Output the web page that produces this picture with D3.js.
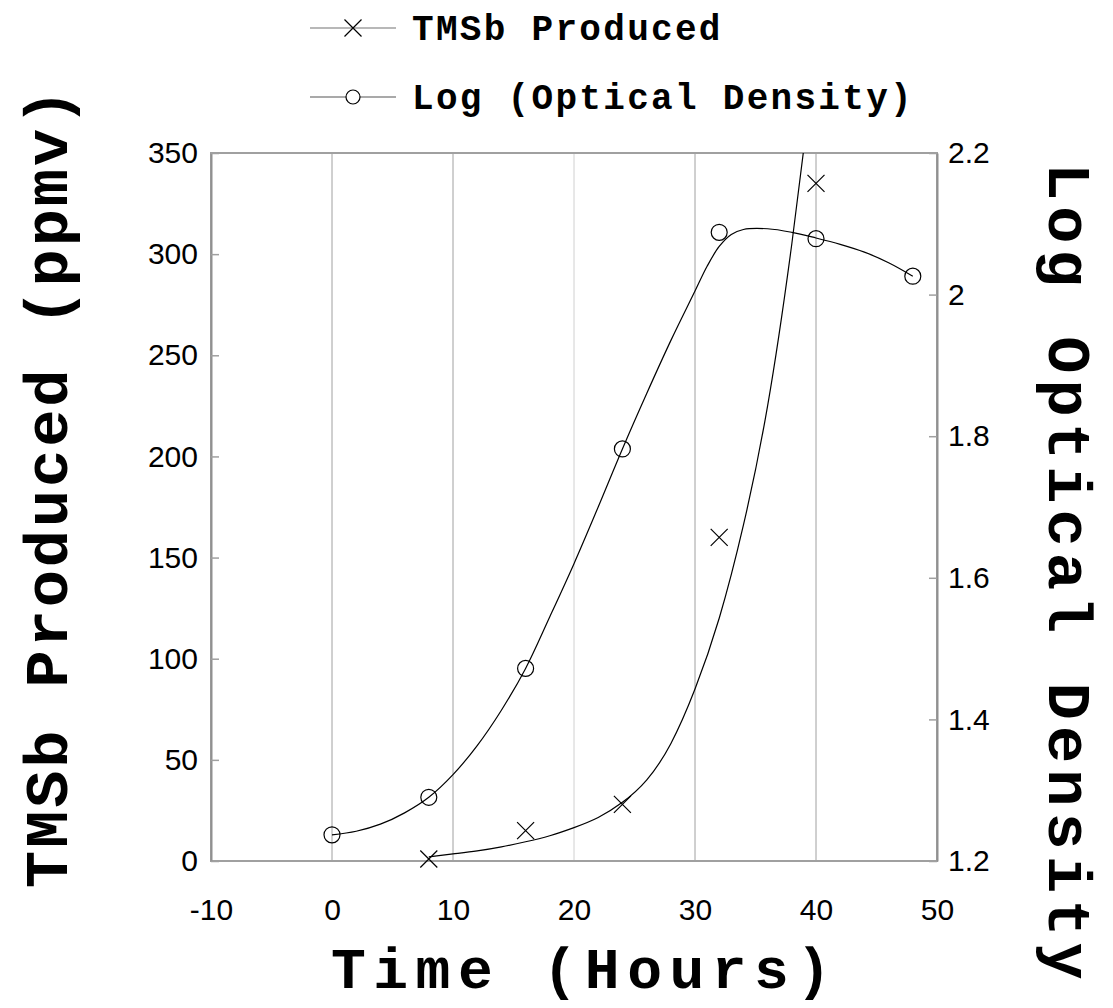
<!DOCTYPE html>
<html>
<head>
<meta charset="utf-8">
<script src="https://cdn.jsdelivr.net/npm/d3@7"></script>
<style>
  body { margin: 0; background: #fff; }
  .tick text { font-family: "Liberation Sans", Arial, sans-serif; font-size: 30px; fill: #000; }
  .title { font-family: "Liberation Mono", "Courier New", monospace; font-weight: bold; fill: #000; }
</style>
</head>
<body>
<script>
// measured points
const hours = [8, 16, 24, 32, 40];
const tmsb = [1, 15, 28, 160, 335];
const odHours = [0, 8, 16, 24, 32, 40, 48];
const logOD = [1.237, 1.290, 1.472, 1.782, 2.088, 2.079, 2.026];

// fitted curves as they appear on the plot
const tmsbFitX = [8, 10, 12, 14, 16, 18, 20, 22, 24, 26, 28, 30, 32, 34, 36, 38, 40];
const tmsbFitY = [2, 3.5, 5, 7, 9.5, 12.5, 16.5, 21.5, 29, 40, 58, 85, 120, 166, 225, 305, 400];
const odFitX = [0, 2, 4, 6, 8, 10, 12, 14, 16, 18, 20, 22, 24, 26, 28, 30, 31, 32, 33, 34, 36, 38, 40, 42, 44, 46, 48];
const odFitY = [1.237, 1.242, 1.252, 1.268, 1.290, 1.322, 1.363, 1.413, 1.472, 1.545, 1.620, 1.700, 1.782, 1.860, 1.935,
                2.005, 2.040, 2.068, 2.085, 2.092, 2.093, 2.088, 2.080, 2.071, 2.060, 2.045, 2.026];

const xTicks = [-10, 0, 10, 20, 30, 40, 50];
const gridX = [0, 10, 20, 30, 40];
const leftTicks = [0, 50, 100, 150, 200, 250, 300, 350];
const rightTicks = [1.2, 1.4, 1.6, 1.8, 2, 2.2];

const width = 1113, height = 1008;
const pLeft = 211, pRight = 937, pTop = 153, pBottom = 861;

const svg = d3.select("body").append("svg")
    .attr("width", width)
    .attr("height", height);

const x = d3.scaleLinear().domain([-10, 50]).range([pLeft, pRight]);
const yL = d3.scaleLinear().domain([0, 350]).range([pBottom, pTop]);
const yR = d3.scaleLinear().domain([1.2, 2.2]).range([pBottom, pTop]);

svg.append("clipPath").attr("id", "plot")
  .append("rect")
    .attr("x", pLeft).attr("y", pTop)
    .attr("width", pRight - pLeft).attr("height", pBottom - pTop);

// vertical grid
svg.append("g")
  .selectAll("line")
  .data(gridX)
  .join("line")
    .attr("x1", d => x(d)).attr("x2", d => x(d))
    .attr("y1", pTop).attr("y2", pBottom)
    .attr("stroke", d => d == 20 ? "#d0d0d0" : "#a0a0a0")
    .attr("stroke-width", 1);

// frame
svg.append("rect")
    .attr("x", pLeft).attr("y", pTop)
    .attr("width", pRight - pLeft).attr("height", pBottom - pTop)
    .attr("fill", "none")
    .attr("stroke", "#a0a0a0")
    .attr("stroke-width", 2);

// axes
const gL = svg.append("g")
    .attr("transform", `translate(${pLeft},0)`)
    .call(d3.axisLeft(yL).tickValues(leftTicks).tickSize(-8).tickSizeOuter(0).tickPadding(13));
const gR = svg.append("g")
    .attr("transform", `translate(${pRight},0)`)
    .call(d3.axisRight(yR).tickValues(rightTicks).tickSize(-8).tickSizeOuter(0).tickPadding(11).tickFormat(d => String(d)));
const gB = svg.append("g")
    .attr("transform", `translate(0,${pBottom})`)
    .call(d3.axisBottom(x).tickValues(xTicks).tickSize(0).tickPadding(38).tickFormat(d => String(d)));
[gL, gR, gB].forEach(g => {
  g.select(".domain").attr("stroke", "#909090").attr("stroke-width", 2);
  g.selectAll(".tick line").attr("stroke", "#a0a0a0").attr("stroke-width", 1.5);
});
gB.select(".domain").remove();

// curves
const lineL = d3.line().x((d, i) => x(tmsbFitX[i])).y(d => yL(d)).curve(d3.curveNatural);
const lineR = d3.line().x((d, i) => x(odFitX[i])).y(d => yR(d)).curve(d3.curveCatmullRom);

svg.append("path")
    .attr("clip-path", "url(#plot)")
    .attr("d", lineL(tmsbFitY))
    .attr("fill", "none").attr("stroke", "#000").attr("stroke-width", 1.2);
svg.append("path")
    .attr("clip-path", "url(#plot)")
    .attr("d", lineR(odFitY))
    .attr("fill", "none").attr("stroke", "#000").attr("stroke-width", 1.2);

// markers
const cs = 8.5;
function cross(g, cx, cy) {
  g.append("path")
    .attr("d", `M${cx - cs},${cy - cs}L${cx + cs},${cy + cs}M${cx - cs},${cy + cs}L${cx + cs},${cy - cs}`)
    .attr("stroke", "#000").attr("stroke-width", 1.2).attr("fill", "none");
}
tmsb.forEach((v, i) => cross(svg, x(hours[i]), yL(v)));

svg.append("g")
  .selectAll("circle")
  .data(logOD)
  .join("circle")
    .attr("cx", (d, i) => x(odHours[i]))
    .attr("cy", d => yR(d))
    .attr("r", 8)
    .attr("fill", "none")
    .attr("stroke", "#000")
    .attr("stroke-width", 1.2);

// legend
const lg = svg.append("g");
lg.append("line").attr("x1", 310).attr("x2", 396).attr("y1", 28).attr("y2", 28)
    .attr("stroke", "#a0a0a0").attr("stroke-width", 1.5);
cross(lg, 353, 28);
lg.append("text").attr("class", "title").attr("x", 412).attr("y", 40)
    .style("font-size", "36px").style("letter-spacing", "2.3px").text("TMSb Produced");
lg.append("line").attr("x1", 310).attr("x2", 396).attr("y1", 97).attr("y2", 97)
    .attr("stroke", "#555").attr("stroke-width", 1.2);
lg.append("circle").attr("cx", 353).attr("cy", 97).attr("r", 7)
    .attr("fill", "#fff").attr("stroke", "#000").attr("stroke-width", 1.2);
lg.append("text").attr("class", "title").attr("x", 412).attr("y", 109)
    .style("font-size", "36px").style("letter-spacing", "2.3px").text("Log (Optical Density)");

// axis titles
svg.append("text").attr("class", "title")
    .attr("x", 331).attr("y", 988)
    .style("font-size", "58px").style("letter-spacing", "7.5px")
    .text("Time (Hours)");
svg.append("text").attr("class", "title")
    .attr("transform", "translate(67,888) rotate(-90)")
    .style("font-size", "62px").style("letter-spacing", "2.9px")
    .text("TMSb Produced (ppmv)");
svg.append("text").attr("class", "title")
    .attr("transform", "translate(1049,163) rotate(90)")
    .style("font-size", "62px").style("letter-spacing", "6.1px")
    .text("Log Optical Density");
</script>
</body>
</html>
